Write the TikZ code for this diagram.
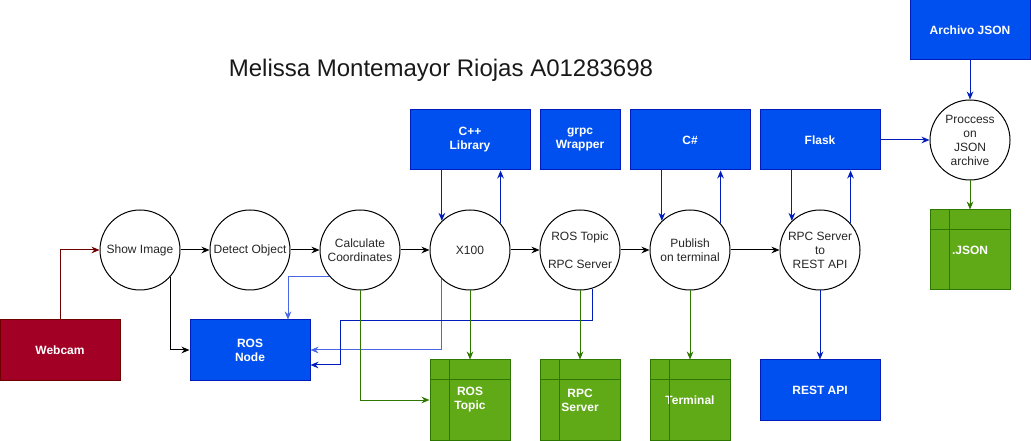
\documentclass[tikz,border=0pt]{standalone}
\usepackage{fontspec}
\setmainfont{Liberation Sans}
\usepackage{xcolor}
\usetikzlibrary{arrows.meta,positioning}
\definecolor{blockblue}{HTML}{0050EF}
\definecolor{lineblue}{HTML}{001DBC}
\definecolor{softblue}{HTML}{4A68E6}
\definecolor{tablegreen}{HTML}{60A917}
\definecolor{linegreen}{HTML}{2D7600}
\definecolor{camred}{HTML}{A20025}
\definecolor{linered}{HTML}{6F0000}

\begin{document}
\begin{tikzpicture}[
    x=0.75pt, y=-0.75pt,
    >={Stealth[length=6pt,width=5pt]},
    procnode/.style={circle, draw=black, fill=white, line width=0.75pt,
        minimum size=60pt, inner sep=0pt, align=center,
        font=\fontsize{9}{10.5}\selectfont, text=black!85},
    bluebox/.style={draw=lineblue, fill=blockblue, line width=0.75pt,
        minimum width=90pt, minimum height=45pt, inner sep=0pt,
        font=\fontsize{9}{10.5}\selectfont\bfseries, text=white, align=center},
    redbox/.style={bluebox, draw=linered, fill=camred},
    tablebox/.style={draw=linegreen, fill=tablegreen, line width=0.75pt,
        minimum width=60pt, minimum height=60pt, inner sep=0pt,
        font=\fontsize{9}{10.5}\selectfont\bfseries, text=white, align=center},
    tabline/.style={linegreen, line width=0.75pt},
    flowarr/.style={->, black, line width=0.75pt},
    bluearr/.style={->, lineblue, line width=0.75pt},
    softarr/.style={->, softblue, line width=0.75pt},
    greenarr/.style={->, linegreen, line width=0.75pt},
    redarr/.style={->, linered, line width=0.75pt},
    heading/.style={font=\fontsize{18}{20}\selectfont, text=black!90},
]
\useasboundingbox (0,0) rectangle (1031,441);

% === Title ===
\node[heading] (title) at (441,70) {Melissa Montemayor Riojas A01283698};

% === Main process chain ===
\node[procnode] (show)     at (140,250) {Show Image};
\node[procnode] (detect)   at (250,250) {Detect Object};
\node[procnode] (calc)     at (360,250) {Calculate\\Coordinates};
\node[procnode] (xhundred) at (470,250) {X100};
\node[procnode] (rostopic) at (580,250) {ROS Topic\\[10.5pt]RPC Server};
\node[procnode] (publish)  at (690,250) {Publish\\on terminal};
\node[procnode] (restconv) at (820,250) {RPC Server\\to\\REST API};
\node[procnode] (process)  at (970,140) {Proccess\\on\\JSON\\archive};

% === Blue blocks ===
\node[bluebox] (cpp)     at (470,140) {C++\\Library};
\node[bluebox, minimum width=60pt] (grpc) at (580,140) {grpc\\Wrapper};
\node[bluebox] (csharp)  at (690,140) {C\#};
\node[bluebox] (flask)   at (820,140) {Flask};
\node[bluebox] (archivo) at (970,30) {Archivo JSON};
\node[bluebox] (rosnode) at (250,350) {ROS\\Node};
\node[bluebox] (restapi) at (820,390) {REST API};
\node[redbox]  (webcam)  at (60,350) {Webcam};

% === Green tables ===
\node[tablebox] (rostab)  at (470,400) {ROS\\Topic};
\node[tablebox] (rpctab)  at (580,400) {RPC\\Server};
\node[tablebox] (termtab) at (690,400) {Terminal};
\node[tablebox] (jsontab) at (970,250) {.JSON};
\foreach \t in {rostab,rpctab,termtab,jsontab}
    \draw[tabline] ([xshift=15pt]\t.north west) -- ([xshift=15pt]\t.south west)
        ([yshift=-15pt]\t.north west) -- ([yshift=-15pt]\t.north east);

% Chain arrows
\draw[flowarr] (show) -- (detect);
\draw[flowarr] (detect) -- (calc);
\draw[flowarr] (calc) -- (xhundred);
\draw[flowarr] (xhundred) -- (rostopic);
\draw[flowarr] (rostopic) -- (publish);
\draw[flowarr] (publish) -- (restconv);
\draw[flowarr] (show.-41) |- (rosnode.west);
\draw[redarr] (webcam.north) |- (show.west);

% Library links
\draw[bluearr] (cpp.south -| xhundred.134) -- (xhundred.134);
\draw[bluearr] (xhundred.41) -- (xhundred.41 |- cpp.south);
\draw[bluearr] (csharp.south -| publish.134) -- (publish.134);
\draw[bluearr] (publish.41) -- (publish.41 |- csharp.south);
\draw[bluearr] (flask.south -| restconv.134) -- (restconv.134);
\draw[bluearr] (restconv.41) -- (restconv.41 |- flask.south);
\draw[bluearr] (flask.east) -- (process.west);
\draw[bluearr] (archivo.south) -- (process.north);
\draw[bluearr] (restconv.south) -- (restapi.north);

% Links to ROS Node
\coordinate (rosbend) at (340,321);
\draw[softarr] (calc.221) -| ([xshift=28.5pt]rosnode.north);
\draw[softarr] (xhundred.226) |- (rosnode.east);
\draw[bluearr] (rostopic.288) |- (rosbend) |- ([yshift=-11.25pt]rosnode.east);

% Outputs to tables
\draw[greenarr] (calc.south) |- (rostab.west);
\draw[greenarr] (xhundred.south) -- (rostab.north);
\draw[greenarr] (rostopic.south) -- (rpctab.north);
\draw[greenarr] (publish.south) -- (termtab.north);
\draw[greenarr] (process.south) -- (jsontab.north);

\end{tikzpicture}
\end{document}
